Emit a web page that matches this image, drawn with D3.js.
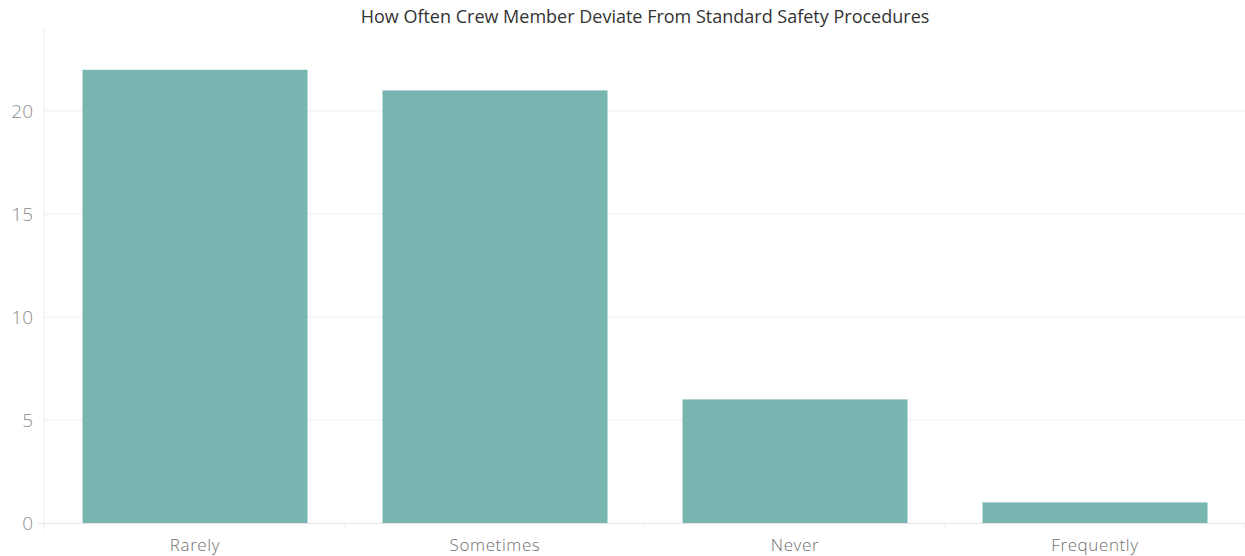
<!DOCTYPE html>
<html>
<head>
<meta charset="utf-8">
<script src="https://cdn.jsdelivr.net/npm/d3@7"></script>
<style>
  html, body { margin: 0; padding: 0; background: #fff; }
  svg { display: block; }
</style>
</head>
<body>
<svg id="chart" width="1245" height="556"></svg>
<script>
// Survey responses: how often crew members deviate from standard safety procedures
const categories = ["Rarely", "Sometimes", "Never", "Frequently"];
const counts = [22, 21, 6, 1];
const yTicks = [0, 5, 10, 15, 20];
const titleText = "How Often Crew Member Deviate From Standard Safety Procedures";

const plot = { left: 44, right: 1245, top: 28.6, bottom: 523 };

const svg = d3.select("#chart");
const font = "'Open Sans', Lato, sans-serif";

const x = d3.scaleBand()
  .domain(categories)
  .range([plot.left + 1, plot.right])
  .paddingInner(0.25)
  .paddingOuter(0.125);

const y = d3.scaleLinear()
  .domain([0, 24])
  .range([plot.bottom, plot.top]);

// Horizontal gridlines
svg.append("g")
  .selectAll("line")
  .data(yTicks.filter(d => d > 0))
  .join("line")
  .attr("x1", plot.left)
  .attr("x2", plot.right)
  .attr("y1", d => y(d))
  .attr("y2", d => y(d))
  .attr("stroke", "#efefef")
  .attr("stroke-width", 1);

// Vertical axis line
svg.append("line")
  .attr("x1", plot.left).attr("x2", plot.left)
  .attr("y1", plot.top).attr("y2", plot.bottom + 7)
  .attr("stroke", "#eeeeee");

// Bars
svg.append("g")
  .selectAll("rect")
  .data(categories.map((c, i) => ({ c, v: counts[i] })))
  .join("rect")
  .attr("x", d => x(d.c))
  .attr("width", x.bandwidth())
  .attr("y", d => y(d.v))
  .attr("height", d => y(0) - y(d.v))
  .attr("fill", "#79b5b0");

// Baseline
svg.append("line")
  .attr("x1", plot.left - 7).attr("x2", plot.right)
  .attr("y1", plot.bottom + 0.5).attr("y2", plot.bottom + 0.5)
  .attr("stroke", "#e6e6e6");

// Category separators on the x axis
const step = x.step();
const bandStart = x(categories[0]) - step * x.paddingOuter();
svg.append("g")
  .selectAll("line")
  .data(d3.range(1, categories.length + 1))
  .join("line")
  .attr("x1", i => bandStart + step * i)
  .attr("x2", i => bandStart + step * i)
  .attr("y1", plot.bottom)
  .attr("y2", plot.bottom + 6)
  .attr("stroke", "#eeeeee");

// Y axis tick labels
svg.append("g")
  .selectAll("text")
  .data(yTicks)
  .join("text")
  .attr("x", 33)
  .attr("y", d => y(d))
  .attr("dy", "0.35em")
  .attr("text-anchor", "end")
  .attr("font-family", font)
  .attr("font-size", 19)
  .attr("font-weight", 300)
  .attr("fill", "#8c8c8c")
  .text(d => d);

// X axis category labels
svg.append("g")
  .selectAll("text")
  .data(categories)
  .join("text")
  .attr("x", d => x(d) + x.bandwidth() / 2)
  .attr("y", 551)
  .attr("text-anchor", "middle")
  .attr("font-family", font)
  .attr("font-size", 17)
  .attr("font-weight", 300)
  .attr("letter-spacing", 0.6)
  .attr("fill", "#707070")
  .text(d => d);

// Title
svg.append("text")
  .attr("x", 645)
  .attr("y", 22.5)
  .attr("text-anchor", "middle")
  .attr("font-family", font)
  .attr("font-size", 18)
  .attr("fill", "#333")
  .text(titleText);
</script>
</body>
</html>
